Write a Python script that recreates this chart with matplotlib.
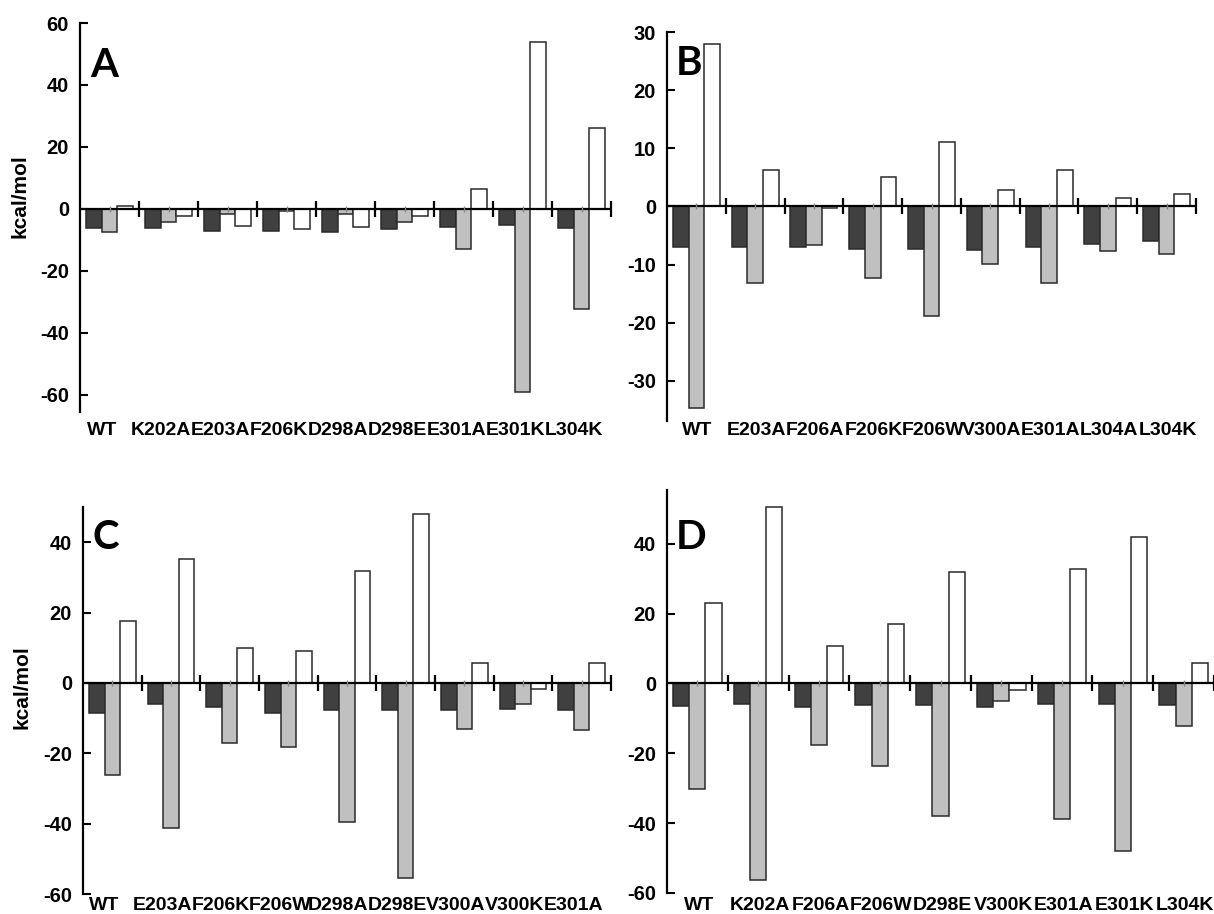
import matplotlib
matplotlib.use("Agg")
import matplotlib.pyplot as plt
import numpy as np

plt.rcParams["font.family"] = ["Liberation Sans", "DejaVu Sans"]

# panel A
cats_a = ["WT", "K202A", "E203A", "F206K", "D298A", "D298E", "E301A", "E301K", "L304K"]
dark_a = [-6.2, -6.2, -7.0, -7.2, -7.3, -6.6, -5.8, -5.3, -6.1]
gray_a = [-7.5, -4.3, -1.6, -0.5, -1.6, -4.3, -13.0, -59.1, -32.2]
white_a = [1.1, -2.2, -5.4, -6.6, -5.8, -2.3, 6.6, 54.0, 26.1]

# panel B
cats_b = ["WT", "E203A", "F206A", "F206K", "F206W", "V300A", "E301A", "L304A", "L304K"]
dark_b = [-6.9, -6.9, -7.0, -7.4, -7.3, -7.5, -7.0, -6.4, -6.0]
gray_b = [-34.7, -13.1, -6.6, -12.3, -18.8, -9.9, -13.1, -7.7, -8.1]
white_b = [28.0, 6.2, -0.35, 5.0, 11.1, 2.9, 6.2, 1.4, 2.2]

# panel C
cats_c = ["WT", "E203A", "F206K", "F206W", "D298A", "D298E", "V300A", "V300K", "E301A"]
dark_c = [-8.5, -5.9, -6.9, -8.6, -7.6, -7.6, -7.8, -7.5, -7.8]
gray_c = [-26.3, -41.1, -17.0, -18.1, -39.5, -55.5, -13.1, -6.0, -13.5]
white_c = [17.7, 35.3, 9.9, 9.1, 31.9, 47.9, 5.6, -1.7, 5.7]

# panel D
cats_d = ["WT", "K202A", "F206A", "F206W", "D298E", "V300K", "E301A", "E301K", "L304K"]
dark_d = [-6.4, -5.8, -6.7, -6.3, -6.1, -6.7, -5.8, -5.8, -6.1]
gray_d = [-30.1, -56.3, -17.6, -23.5, -37.9, -4.9, -38.9, -48.0, -12.2]
white_d = [23.0, 50.5, 10.8, 17.1, 31.8, -1.8, 32.9, 42.0, 5.9]

W, H = 1214, 914
fig = plt.figure(figsize=(W / 100, H / 100), dpi=100)


def panel(box, cats, dark, gray, white, ylim, yticks, letter, letter_xy,
          lab_off, lab_pad, ylab=None):
    l, r, t, b = box
    ax = fig.add_axes([l / W, 1 - b / H, (r - l) / W, (b - t) / H])
    n = len(cats)
    x = np.arange(n) + 0.5
    w = 0.266
    for off, vals, col in [(-w, dark, "#404040"), (0, gray, "#c0c0c0"), (w, white, "white")]:
        ax.bar(x + off, vals, width=w, color=col, edgecolor="#2a2a2a",
               linewidth=1.1, zorder=2)
    ax.axhline(0, color="black", lw=1.6, zorder=3)
    # group separators on the zero line
    ax.plot(np.arange(1, n + 1), np.zeros(n), ls="none", marker="|", ms=11,
            mew=1.6, color="black", zorder=4, clip_on=False)
    ax.plot(x, np.zeros(n), ls="none", marker="|", ms=4, mew=1,
            color="#888888", zorder=4)
    ax.set_xlim(0, n)
    ax.set_ylim(ylim)
    for s in ["top", "right", "bottom"]:
        ax.spines[s].set_visible(False)
    ax.spines["left"].set_linewidth(1.6)
    ax.set_yticks(yticks, [str(v) for v in yticks], fontweight="bold")
    ax.tick_params(axis="y", direction="in", length=5.5, width=1.5, pad=8,
                   labelsize=14.5)
    ax.set_xticks(x + lab_off, cats, fontweight="bold")
    ax.tick_params(axis="x", length=0, pad=lab_pad, labelsize=14)
    if ylab is not None:
        ax.set_ylabel("kcal/mol", fontsize=15, fontweight="bold")
        ax.yaxis.set_label_coords(*ylab)
    fig.text(letter_xy[0] / W, 1 - letter_xy[1] / H, letter, fontsize=29,
             fontweight="bold", family=["Lato", "DejaVu Sans"], va="baseline")
    return ax


panel((80, 611, 23, 412), cats_a, dark_a, gray_a, white_a, (-65.5, 60),
      [-60, -40, -20, 0, 20, 40, 60], "A", (90, 77), -0.125, 7.2,
      ylab=(-0.096, 0.555))
panel((667, 1196, 32, 421), cats_b, dark_b, gray_b, white_b, (-36.9, 30),
      [-30, -20, -10, 0, 10, 20, 30], "B", (676, 75), 0.02, 0.8)
panel((83, 611, 507, 894), cats_c, dark_c, gray_c, white_c, (-60, 50),
      [-60, -40, -20, 0, 20, 40], "C", (92, 549), -0.145, 2.3,
      ylab=(-0.098, 0.535))
panel((667, 1214, 490, 893), cats_d, dark_d, gray_d, white_d, (-60, 55.4),
      [-60, -40, -20, 0, 20, 40], "D", (676, 549), 0.03, 2.8)

fig.savefig("out.png", dpi=100)
